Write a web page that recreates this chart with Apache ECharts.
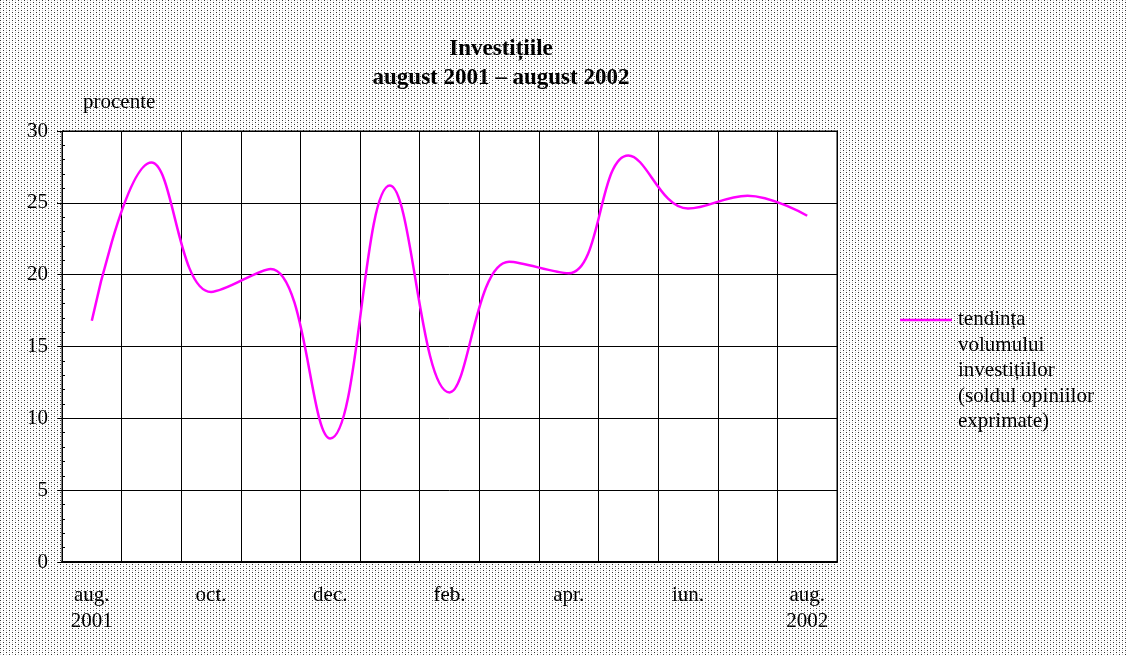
<!DOCTYPE html>
<html>
<head>
<meta charset="utf-8">
<script src="https://cdn.jsdelivr.net/npm/echarts@6/dist/echarts.min.js"></script>
<style>
  html, body { margin: 0; padding: 0; }
  #chart { width: 1127px; height: 655px; }
</style>
</head>
<body>
<div id="chart"></div>
<script>
// months, aug 2001 .. aug 2002
const months = ['aug.\n2001', 'sep.', 'oct.', 'nov.', 'dec.', 'ian.', 'feb.', 'mar.', 'apr.', 'mai', 'iun.', 'iul.', 'aug.\n2002']
const investitii = [16.8, 27.8, 18.8, 20.4, 8.6, 26.2, 11.8, 20.9, 20.1, 28.3, 24.6, 25.5, 24.1]
const yTicks = [0, 5, 10, 15, 20, 25, 30]

// dotted grey background like the original
const tile = document.createElement('canvas')
tile.width = 6; tile.height = 4
const ctx = tile.getContext('2d')
ctx.fillStyle = '#fff'; ctx.fillRect(0, 0, 6, 4)
ctx.fillStyle = '#333'; ctx.fillRect(0, 0, 1, 1); ctx.fillRect(3, 2, 1, 1)
ctx.fillStyle = '#c8c8c8'; ctx.fillRect(3, 0, 1, 1); ctx.fillRect(0, 2, 1, 1)
document.getElementById('chart').style.background = 'url(' + tile.toDataURL() + ')'

const font = '"Liberation Serif", "DejaVu Serif", serif'
const chart = echarts.init(document.getElementById('chart'))

const legendLines = ['tendința', 'volumului', 'investițiilor', '(soldul opiniilor', 'exprimate)']

chart.setOption({
    backgroundColor: 'transparent',
    animation: false,
    title: {
        text: 'Investițiile\naugust 2001 – august 2002',
        left: 496,
        textAlign: 'center',
        top: 30,
        textStyle: { fontFamily: font, fontSize: 23, fontWeight: 'bold', color: '#000', lineHeight: 29 }
    },
    graphic: [
        { type: 'text', left: 83, top: 92, style: { text: 'procente', font: '21px ' + font, fill: '#000' } },
        { type: 'line', shape: { x1: 900, y1: 320, x2: 952, y2: 320 }, style: { stroke: '#ff00ff', lineWidth: 2.5 } },
        {
            type: 'text', left: 958, top: 307,
            style: { text: legendLines.join('\n'), font: '21px ' + font, fill: '#000', lineHeight: 25.5 }
        }
    ],
    grid: {
        left: 62, top: 131, right: 290, bottom: 93,
        show: true, backgroundColor: '#fff', borderColor: '#000', borderWidth: 1
    },
    xAxis: {
        type: 'category',
        data: months,
        boundaryGap: true,
        axisLine: { lineStyle: { color: '#000', width: 2 } },
        axisTick: { show: false },
        axisLabel: {
            interval: 1, color: '#000', fontFamily: font, fontSize: 21, lineHeight: 26, margin: 20
        },
        splitLine: { show: true, interval: 0, lineStyle: { color: '#000', width: 1 } }
    },
    yAxis: [{
        type: 'value',
        min: yTicks[0], max: yTicks[yTicks.length - 1], interval: 5,
        axisLine: { show: true, lineStyle: { color: '#000', width: 1 } },
        axisTick: { show: true, length: 5, lineStyle: { color: '#000' } },
        axisLabel: { color: '#000', fontFamily: font, fontSize: 21, margin: 14 },
        splitLine: { show: true, lineStyle: { color: '#000', width: 1 } }
    }, {
        // minor ticks drawn inside the plot
        type: 'value', position: 'left',
        min: 0, max: 30, interval: 1,
        axisLine: { show: false },
        axisTick: { show: true, inside: true, length: 3, lineStyle: { color: '#000' } },
        axisLabel: { show: false },
        splitLine: { show: false }
    }],
    series: [{
        name: 'tendința volumului investițiilor (soldul opiniilor exprimate)',
        type: 'line',
        data: investitii,
        smooth: 0.4,
        symbol: 'none',
        lineStyle: { color: '#ff00ff', width: 2.5 }
    }]
})
</script>
</body>
</html>
